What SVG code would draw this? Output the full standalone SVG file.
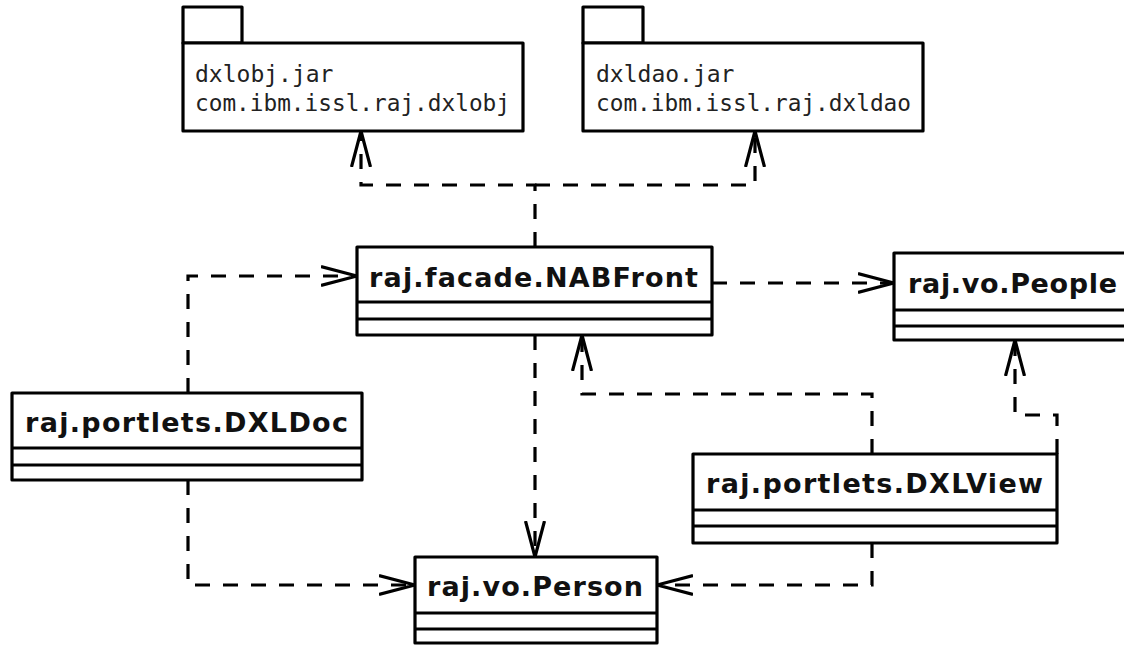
<svg xmlns="http://www.w3.org/2000/svg" width="1124" height="646" viewBox="0 0 1124 646">
<style>
.box{fill:#fff;stroke:#000;stroke-width:3.2;stroke-linejoin:round}
.sep{stroke:#000;stroke-width:3.2}
.title{font-family:"DejaVu Sans",sans-serif;font-weight:bold;font-size:27px;fill:#111}
.mono{font-family:"DejaVu Sans Mono",monospace;font-size:23px;fill:#222}
.dep{fill:none;stroke:#000;stroke-width:3.2;stroke-dasharray:15 13}
</style>
<defs>
<marker id="open" markerUnits="userSpaceOnUse" markerWidth="40" markerHeight="26" refX="36" refY="13" orient="auto">
<path d="M0,3.5 L36,13 L0,22.5" fill="none" stroke="#000" stroke-width="3.2" stroke-dasharray="none"/>
</marker>
</defs>
<rect width="1124" height="646" fill="#fff"/>
<g id="connectors">
<path class="dep" d="M535,247 V185 H361 V131" marker-end="url(#open)"/>
<path class="dep" d="M535,185 H755 V131" marker-end="url(#open)"/>
<path class="dep" d="M712,283 H894" marker-end="url(#open)"/>
<path class="dep" d="M188,393 V276 H357" marker-end="url(#open)"/>
<path class="dep" d="M188,480 V585 H415" marker-end="url(#open)"/>
<path class="dep" d="M535,335 V557" marker-end="url(#open)"/>
<path class="dep" d="M872,454 V394 H582 V335" marker-end="url(#open)"/>
<path class="dep" d="M1057,454 V415 H1015 V340" marker-end="url(#open)"/>
<path class="dep" d="M872,543 V585 H657" marker-end="url(#open)"/>
</g>
<g id="pkg-dxlobj">
<rect class="box" x="183" y="7" width="59" height="36"/>
<rect class="box" x="183" y="43" width="340" height="88"/>
<text class="mono" x="195" y="82">dxlobj.jar</text>
<text class="mono" x="195" y="111" textLength="315" lengthAdjust="spacingAndGlyphs">com.ibm.issl.raj.dxlobj</text>
</g>
<g id="pkg-dxldao">
<rect class="box" x="583" y="7" width="60" height="36"/>
<rect class="box" x="583" y="43" width="340" height="88"/>
<text class="mono" x="596" y="82">dxldao.jar</text>
<text class="mono" x="596" y="111" textLength="315" lengthAdjust="spacingAndGlyphs">com.ibm.issl.raj.dxldao</text>
</g>
<g id="cls-NABFront">
<rect class="box" x="357" y="247" width="355" height="88"/>
<line class="sep" x1="357" y1="302" x2="712" y2="302"/>
<line class="sep" x1="357" y1="319" x2="712" y2="319"/>
<text class="title" x="369" y="287" textLength="329" lengthAdjust="spacing">raj.facade.NABFront</text>
</g>
<g id="cls-People">
<rect class="box" x="894" y="253" width="250" height="87"/>
<line class="sep" x1="894" y1="310" x2="1144" y2="310"/>
<line class="sep" x1="894" y1="326" x2="1144" y2="326"/>
<text class="title" x="908" y="293" textLength="209" lengthAdjust="spacing">raj.vo.People</text>
</g>
<g id="cls-DXLDoc">
<rect class="box" x="12" y="393" width="350" height="87"/>
<line class="sep" x1="12" y1="448" x2="362" y2="448"/>
<line class="sep" x1="12" y1="465" x2="362" y2="465"/>
<text class="title" x="25" y="432" textLength="323" lengthAdjust="spacing">raj.portlets.DXLDoc</text>
</g>
<g id="cls-DXLView">
<rect class="box" x="693" y="454" width="364" height="89"/>
<line class="sep" x1="693" y1="510" x2="1057" y2="510"/>
<line class="sep" x1="693" y1="526" x2="1057" y2="526"/>
<text class="title" x="706" y="493" textLength="337" lengthAdjust="spacing">raj.portlets.DXLView</text>
</g>
<g id="cls-Person">
<rect class="box" x="415" y="557" width="242" height="86"/>
<line class="sep" x1="415" y1="613" x2="657" y2="613"/>
<line class="sep" x1="415" y1="629" x2="657" y2="629"/>
<text class="title" x="427" y="596" textLength="216" lengthAdjust="spacing">raj.vo.Person</text>
</g>
</svg>
